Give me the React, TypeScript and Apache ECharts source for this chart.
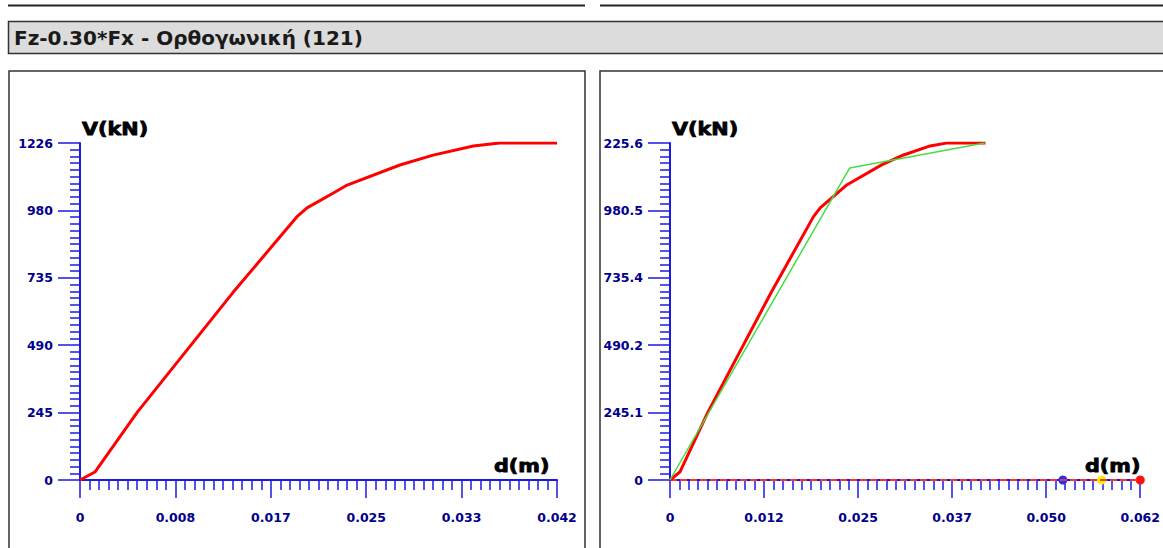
import React, { useEffect, useRef } from "react";
import * as echarts from "echarts";

// Capacity curve (same for both panels)
const dispD = [0, 0.0013, 0.005, 0.0133, 0.0189, 0.0198, 0.0221, 0.0233, 0.0279, 0.0308, 0.0343, 0.0366, 0.0416];
const forceV = [0, 29, 247, 680, 957, 990, 1044, 1073, 1146, 1182, 1215, 1226, 1226];

// Bilinear idealisation (right panel)
const bilinD = [0, 0.0237, 0.0415];
const bilinV = [0, 1135, 1226];

// Performance points on the d axis (right panel)
const perfD = [0.0518, 0.0569, 0.062];
const perfColors = ["#2233ee", "#fff000", "#ff1010"];

// Axis ranges and tick labels
const leftXMax = 0.0416;
const leftYMax = 1226;
const rightXMax = 0.062;
const rightYMax = 1225.6;
const leftXLabels = ["0", "0.008", "0.017", "0.025", "0.033", "0.042"];
const leftYLabels = ["0", "245", "490", "735", "980", "1226"];
const rightXLabels = ["0", "0.012", "0.025", "0.037", "0.050", "0.062"];
const rightYLabels = ["0", "245.1", "490.2", "735.4", "980.5", "225.6"];

const titleText = "Fz-0.30*Fx - Ορθογωνική (121)";

const AXIS_BLUE = "#1a1ae6";
const LABEL_BLUE = "#00008c";

function valueAxis(kind: "x" | "y", gridIndex: number, max: number, labels: string[]) {
  const interval = max / 5;
  return {
    type: "value",
    gridIndex,
    min: 0,
    max,
    interval,
    splitLine: { show: false },
    axisLine: { show: true, onZero: false, lineStyle: { color: AXIS_BLUE, width: 2 } },
    axisTick: { show: true, length: kind === "y" ? 22 : 18, lineStyle: { color: AXIS_BLUE, width: 1.5 } },
    minorTick: { show: true, splitNumber: 10, length: 10, lineStyle: { color: AXIS_BLUE, width: 1.5 } },
    axisLabel: {
      show: true,
      margin: kind === "y" ? 27 : 31,
      color: LABEL_BLUE,
      fontFamily: "DejaVu Sans",
      fontWeight: "bold",
      fontSize: 12.5,
      showMinLabel: true,
      showMaxLabel: true,
      formatter: (v: number) => labels[Math.round(v / interval)] ?? "",
    },
  };
}

export default function App() {
  const ref = useRef<HTMLDivElement>(null);
  useEffect(() => {
    document.body.style.margin = "0";
    const chart = echarts.init(ref.current!, null, { renderer: "svg" });
    const curve = dispD.map((d, i) => [d, forceV[i]]);
    const bilin = bilinD.map((d, i) => [d, bilinV[i]]);
    const axisTitle = (x: number, y: number, text: string) => ({
      type: "text",
      x,
      y,
      scaleX: 1.22,
      z: 10,
      style: {
        text,
        fill: "#000",
        font: "bold 17px 'DejaVu Sans'",
        textVerticalAlign: "middle",
        stroke: "#000",
        lineWidth: 0.8,
      },
    });
    chart.setOption({
      animation: false,
      backgroundColor: "#fff",
      grid: [
        { left: 80, top: 143, width: 477, height: 337 },
        { left: 670, top: 143, width: 478, height: 337 },
      ],
      xAxis: [
        valueAxis("x", 0, leftXMax, leftXLabels),
        valueAxis("x", 1, rightXMax, rightXLabels),
      ],
      yAxis: [
        valueAxis("y", 0, leftYMax, leftYLabels),
        valueAxis("y", 1, rightYMax, rightYLabels),
      ],
      graphic: [
        { type: "line", shape: { x1: 8, y1: 5.5, x2: 585, y2: 5.5 }, style: { stroke: "#222", lineWidth: 2 } },
        { type: "line", shape: { x1: 600, y1: 5.5, x2: 1163, y2: 5.5 }, style: { stroke: "#222", lineWidth: 2 } },
        { type: "rect", shape: { x: 8.5, y: 21.5, width: 1170, height: 32 }, style: { fill: "#dcdcdc", stroke: "#333", lineWidth: 1.5 } },
        {
          type: "text",
          x: 14,
          y: 38,
          style: { text: titleText, fill: "#1a1a1a", font: "bold 20px 'DejaVu Sans'", textVerticalAlign: "middle" },
        },
        { type: "rect", shape: { x: 9, y: 71, width: 576, height: 500 }, style: { fill: "none", stroke: "#333", lineWidth: 1.5 } },
        { type: "rect", shape: { x: 600, y: 71, width: 600, height: 500 }, style: { fill: "none", stroke: "#333", lineWidth: 1.5 } },
        axisTitle(82, 129, "V(kN)"),
        axisTitle(672, 129, "V(kN)"),
        axisTitle(494, 466, "d(m)"),
        axisTitle(1085, 466, "d(m)"),
      ],
      series: [
        {
          type: "line",
          xAxisIndex: 0,
          yAxisIndex: 0,
          data: curve,
          showSymbol: false,
          lineStyle: { color: "#ff0000", width: 3 },
        },
        {
          type: "line",
          xAxisIndex: 1,
          yAxisIndex: 1,
          data: [[0, 0], [rightXMax, 0]],
          showSymbol: false,
          lineStyle: { color: "#ff3030", width: 2, type: [7, 3] },
        },
        {
          type: "line",
          xAxisIndex: 1,
          yAxisIndex: 1,
          data: curve,
          showSymbol: false,
          lineStyle: { color: "#ff0000", width: 3 },
        },
        {
          type: "line",
          xAxisIndex: 1,
          yAxisIndex: 1,
          data: bilin,
          showSymbol: false,
          lineStyle: { color: "#44dd44", width: 1.5 },
        },
        {
          type: "scatter",
          xAxisIndex: 1,
          yAxisIndex: 1,
          symbolSize: 9,
          data: perfD.map((d, i) => ({ value: [d, 0], itemStyle: { color: perfColors[i], opacity: 1 } })),
        },
      ],
    });
    return () => chart.dispose();
  }, []);
  return <div ref={ref} style={{ position: "absolute", left: 0, top: 0, width: 1163, height: 548 }} />;
}
